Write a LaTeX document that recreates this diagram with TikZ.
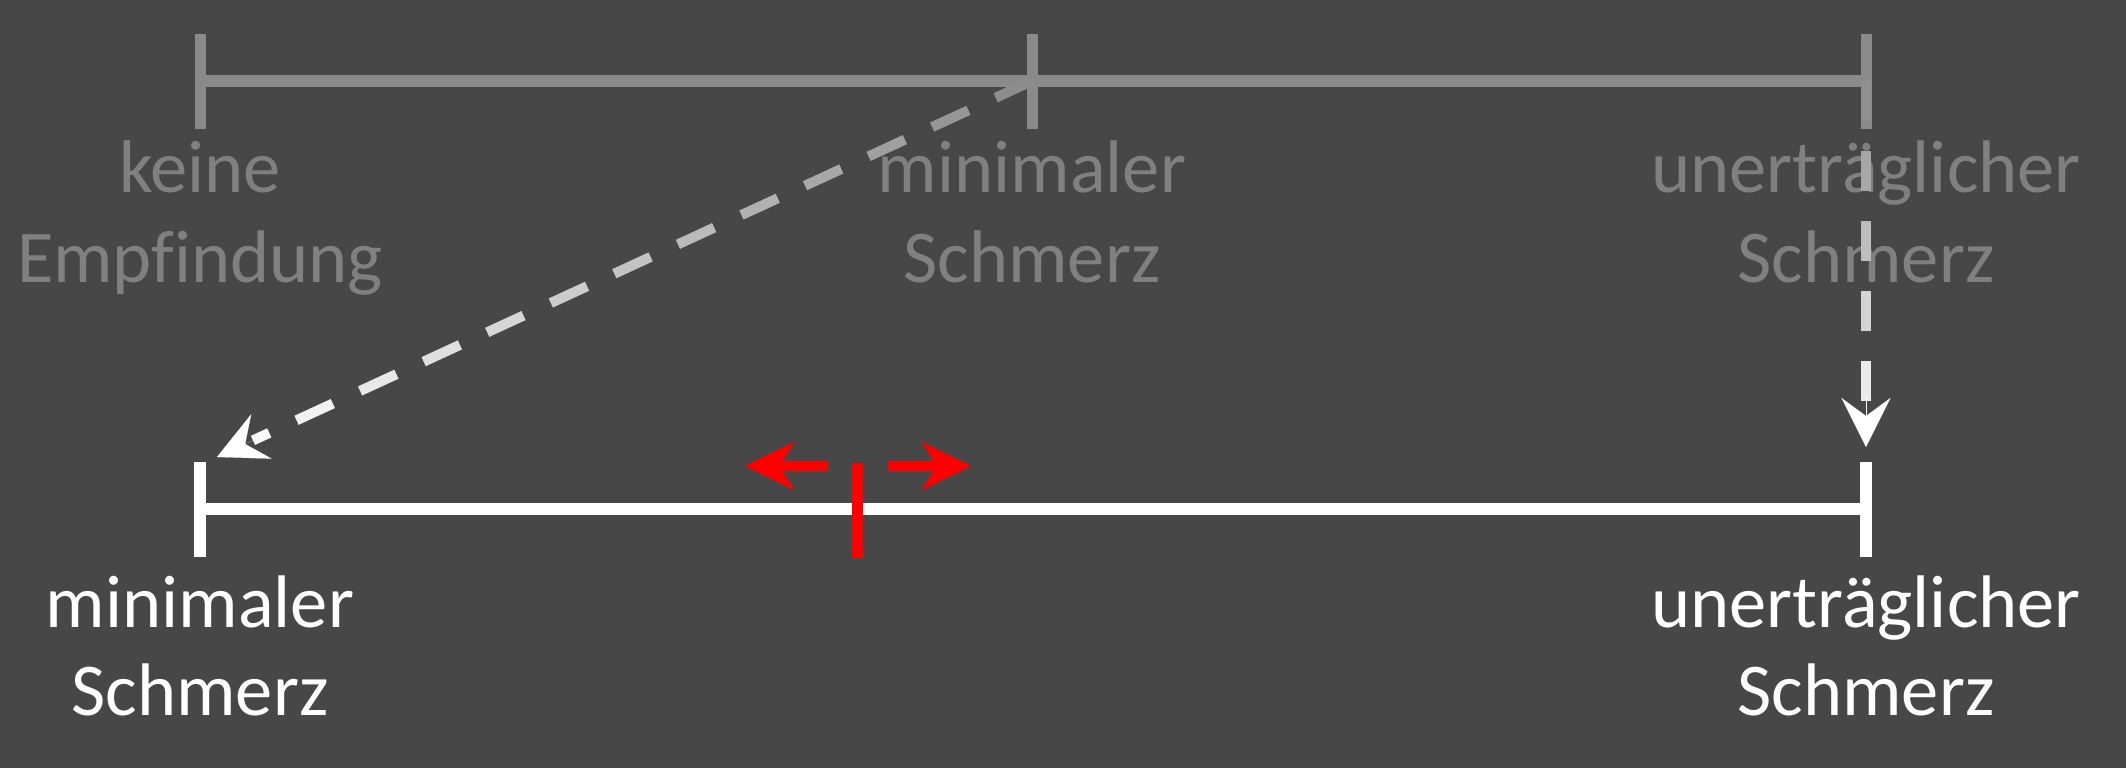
\documentclass[tikz,border=0pt]{standalone}
\usepackage{fontspec}
\setmainfont{Carlito}[Ligatures=NoCommon]
\usetikzlibrary{arrows.meta,calc}
\definecolor{bg}{HTML}{474747}
\definecolor{topgray}{HTML}{8A8A8A}
\definecolor{txtgray}{HTML}{808080}
\definecolor{pureRed}{HTML}{FF0000}
\tikzset{
  topline/.style={draw=topgray, line width=11pt},
  toptick/.style={draw=topgray, line width=11pt},
  botline/.style={draw=white, line width=12pt},
  bottick/.style={draw=white, line width=12pt},
  redtick/.style={draw=pureRed, line width=11pt},
  lbl/.style={font=\fontsize{74.5}{90}\selectfont, anchor=base, inner sep=0pt},
  greylbl/.style={lbl, text=txtgray},
  whitelbl/.style={lbl, text=white},
  dashseg/.style={line width=10pt},
  dashhead/.style={draw=white, line width=0.1pt, -{Stealth[length=49pt,width=49pt,inset=18pt]}},
  redarrow/.style={draw=pureRed, line width=10pt, -{Stealth[length=50pt,width=49pt,inset=16pt,line width=0pt]}}
}
\begin{document}
\begin{tikzpicture}[x=1pt,y=-1pt]
\fill[bg] (0,0) rectangle (2126,768);
\useasboundingbox (0,0) rectangle (2126,768);

% top scale
\coordinate (tl) at (200,81);
\coordinate (tm) at (1032,81);
\coordinate (tr) at (1866,81);
\draw[topline] (tl) -- (tr);
\foreach \n in {tl,tm,tr}{
  \draw[toptick] ($(\n)+(0,-47)$) -- ($(\n)+(0,48)$);
}

% top labels
\node[greylbl] (kA) at (200,192) {keine};
\node[greylbl] (kB) at (200,282) {Empfindung};
\node[greylbl] (mA) at (1032,192) {minimaler};
\node[greylbl] (mB) at (1032,282) {Schmerz};
\node[greylbl] (uA) at (1866,192) {unerträglicher};
\node[greylbl] (uB) at (1866,282) {Schmerz};

% dashed arrows (gradient grey -> white)
\coordinate (blt) at (217,457);
\coordinate (brt) at (1866,447);
\foreach \k in {0,...,12}{
  \pgfmathsetmacro\s{70*\k}
  \pgfmathsetmacro\e{min(70*\k+40,858)}
  \pgfmathsetmacro\p{(\s+\e)/17.952}
  \draw[dashseg, draw=white!\p!topgray] ($(tm)!\s pt!(blt)$) -- ($(tm)!\e pt!(blt)$);
}
\path[dashhead] ($(blt)!50pt!(tm)$) -- (blt);
\foreach \k in {0,...,4}{
  \pgfmathsetmacro\s{70*\k}
  \pgfmathsetmacro\e{70*\k+40}
  \pgfmathsetmacro\p{(\s+\e)/7.32}
  \draw[dashseg, draw=white!\p!topgray] ($(tr)!\s pt!(brt)$) -- ($(tr)!\e pt!(brt)$);
}
\path[dashhead] ($(brt)!50pt!(tr)$) -- (brt);

% bottom scale
\coordinate (bl) at (200,509);
\coordinate (br) at (1866,509);
\coordinate (bm) at (857,509);
\draw[botline] (bl) -- (br);
\foreach \n in {bl,br}{
  \draw[bottick] ($(\n)+(0,-47)$) -- ($(\n)+(0,48)$);
}
\draw[redtick] ($(bm)+(0,-46)$) -- ($(bm)+(0,49)$);

% red arrows
\coordinate (rls) at (828,466);
\coordinate (rlt) at (745,466);
\coordinate (rrs) at (888,466);
\coordinate (rrt) at (971,466);
\draw[redarrow] (rls) -- (rlt);
\draw[redarrow] (rrs) -- (rrt);

% bottom labels
\node[whitelbl] (bmA) at (200,627) {minimaler};
\node[whitelbl] (bmB) at (200,715) {Schmerz};
\node[whitelbl] (buA) at (1866,627) {unerträglicher};
\node[whitelbl] (buB) at (1866,715) {Schmerz};
\end{tikzpicture}
\end{document}
